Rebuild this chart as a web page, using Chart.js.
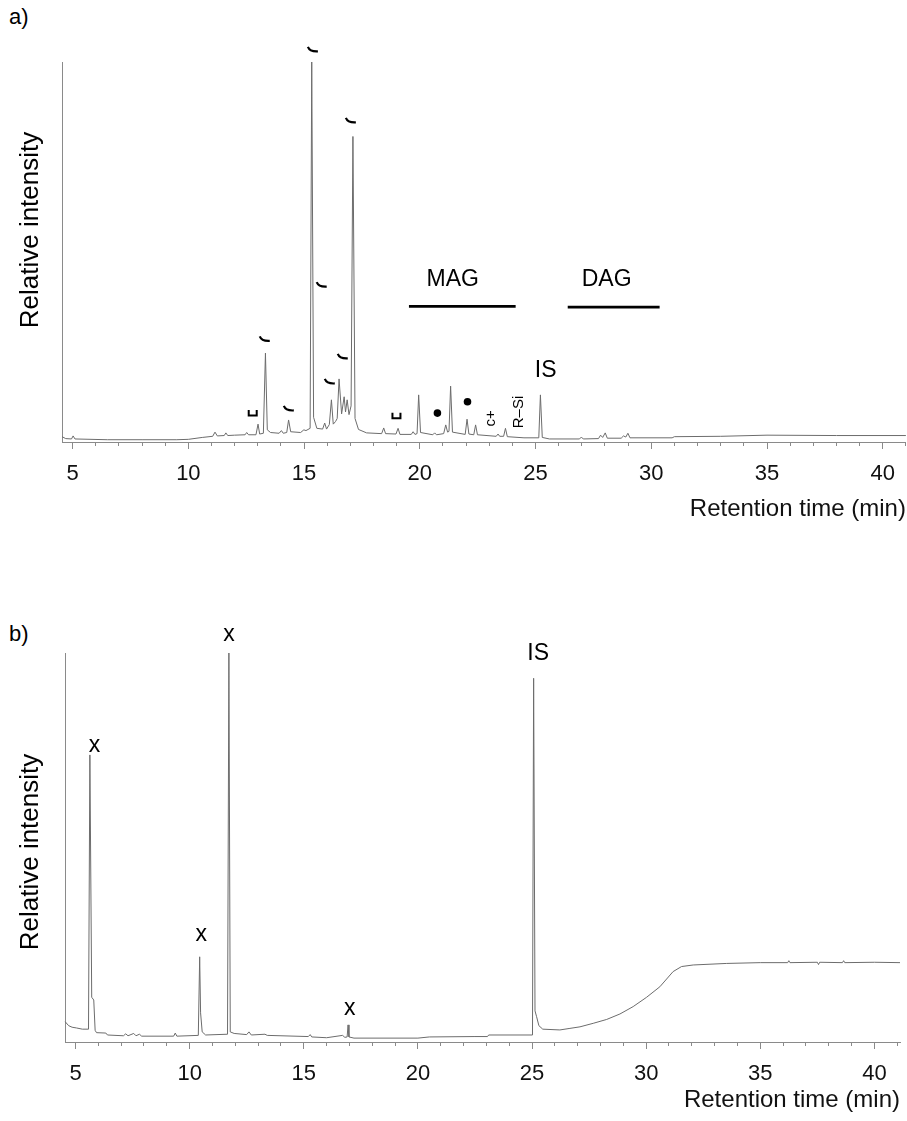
<!DOCTYPE html>
<html lang="en">
<head>
<meta charset="utf-8">
<script src="https://cdn.jsdelivr.net/npm/chart.js@4.4.1/dist/chart.umd.min.js"></script>
<style>
  body { margin: 0; background: #fff; width: 907px; height: 1121px; position: relative; overflow: hidden; }
  canvas { position: absolute; left: 0; }
  #chartA { top: 0; }
  #chartB { top: 540px; }
  .panel { position: absolute; left: 9px; font: 22px "Liberation Sans", Arial, sans-serif; color: #000; }
</style>
</head>
<body>
<div class="panel" style="top:4px">a)</div>
<div class="panel" style="top:621px">b)</div>
<canvas id="chartA" width="907" height="530"></canvas>
<canvas id="chartB" width="907" height="581"></canvas>
<script>
// a) total lipid extract, retention time (min) vs relative intensity
const timeA = [
  4.54, 4.70, 4.95, 5.02, 5.10, 6.50, 8.00, 9.50, 10.00, 10.60,
  11.05, 11.15, 11.25, 11.55, 11.62, 11.70, 12.00, 12.45, 12.52, 12.60,
  12.92, 13.01, 13.08, 13.24, 13.33, 13.41, 13.55, 13.92, 14.02, 14.10,
  14.25, 14.33, 14.42, 14.85, 14.99, 15.08, 15.26, 15.33, 15.41, 15.55,
  15.80, 15.89, 15.97, 16.09, 16.18, 16.26, 16.36, 16.43, 16.51, 16.62,
  16.73, 16.79, 16.86, 16.94, 17.03, 17.11, 17.20, 17.35, 17.70, 18.35,
  18.44, 18.52, 18.97, 19.06, 19.14, 19.63, 19.71, 19.79, 19.88, 19.95,
  20.03, 20.56, 20.64, 20.72, 21.03, 21.12, 21.20, 21.26, 21.33, 21.41,
  21.96, 22.04, 22.12, 22.33, 22.41, 22.49, 23.30, 23.38, 23.45, 23.62,
  23.70, 23.78, 24.50, 25.14, 25.21, 25.29, 25.60, 26.90, 26.98, 27.06,
  27.72, 27.81, 27.90, 28.01, 28.10, 28.70, 28.80, 28.90, 28.99, 29.08,
  30.90, 31.00, 33.00, 35.00, 38.00, 41.00
];
const signalA = [
  1.4, 0.9, 0.8, 1.6, 0.8, 0.6, 0.6, 0.6, 0.7, 1.2,
  1.5, 2.6, 1.6, 1.7, 2.4, 1.7, 1.8, 1.9, 2.5, 1.9,
  1.9, 4.7, 2.1, 2.3, 23.4, 3.2, 2.5, 2.3, 3.0, 2.3,
  2.5, 5.8, 2.7, 2.5, 3.2, 3.0, 3.6, 100, 6.5, 3.6,
  3.4, 5.0, 3.4, 4.6, 11.1, 4.7, 5.4, 6.2, 16.6, 7.4,
  11.9, 7.9, 11.1, 7.2, 9.5, 80.4, 6.2, 3.3, 2.4, 2.2,
  3.7, 2.2, 2.1, 3.6, 2.0, 2.0, 2.7, 2.0, 2.2, 12.4,
  2.5, 1.9, 2.4, 1.9, 2.2, 4.5, 2.6, 2.8, 14.7, 2.6,
  2.0, 6.0, 2.1, 1.9, 4.5, 1.9, 1.5, 2.1, 1.5, 1.5,
  3.6, 1.4, 1.1, 1.1, 12.4, 1.2, 0.8, 0.8, 1.3, 0.8,
  0.9, 1.8, 1.2, 2.4, 1.0, 1.0, 1.6, 1.3, 2.3, 1.1,
  1.1, 1.4, 1.5, 1.8, 1.7, 1.7
];

// b) blank run
const timeB = [
  4.55, 4.70, 4.85, 5.05, 5.30, 5.57, 5.63, 5.71, 5.80, 5.86,
  5.92, 6.33, 6.40, 7.10, 7.20, 7.30, 7.55, 7.65, 7.80, 7.90,
  9.30, 9.37, 9.44, 10.38, 10.44, 10.48, 10.55, 10.70, 11.66, 11.72,
  11.78, 11.95, 12.50, 12.60, 12.70, 13.30, 13.40, 15.20, 15.28, 15.35,
  16.00, 16.70, 16.80, 16.90, 16.94, 16.98, 17.20, 20.00, 20.50, 22.50,
  23.05, 23.10, 25.02, 25.07, 25.13, 25.20, 25.30, 25.47, 26.22, 26.66,
  27.10, 27.68, 28.27, 28.85, 29.43, 30.02, 30.60, 31.18, 31.55, 32.06,
  33.53, 35.00, 36.20, 36.25, 36.30, 37.50, 37.55, 37.60, 38.60, 38.65,
  38.70, 40.00, 41.12
];
const signalB = [
  5.2, 4.2, 3.8, 3.6, 3.3, 3.3, 73.8, 11.5, 10.8, 3.0,
  2.4, 2.3, 1.8, 1.6, 2.1, 1.6, 2.2, 1.6, 2.0, 1.5,
  1.5, 2.3, 1.5, 1.7, 21.9, 7.5, 2.6, 1.8, 2.0, 100,
  2.6, 2.2, 1.9, 2.6, 1.8, 2.0, 1.7, 1.4, 1.9, 1.3,
  1.1, 1.7, 1.2, 1.3, 4.4, 1.3, 1.0, 1.0, 1.3, 1.4,
  1.4, 1.8, 1.8, 93.5, 8.0, 6.5, 4.2, 3.3, 3.1, 3.5,
  3.9, 4.8, 5.8, 7.2, 9.1, 11.5, 14.2, 18.1, 19.4, 19.8,
  20.2, 20.4, 20.4, 20.9, 20.4, 20.5, 19.9, 20.5, 20.4, 20.9,
  20.4, 20.5, 20.4
];

const majorTicks = [5, 10, 15, 20, 25, 30, 35, 40];

// peak labels: [text, time, level]
const labelsA = [['MAG', 21.42, 42.6], ['DAG', 28.07, 42.6], ['IS', 25.44, 18.9]];
const rangesA = [[19.53, 24.14, 35.7], [26.39, 30.36, 35.5]];   // MAG / DAG elution windows
const hooksA = [[13.30, 27.0], [14.34, 8.7], [15.38, 103.2], [15.76, 41.3], [16.11, 15.8], [16.67, 22.4], [17.02, 84.5]];
const bracketsA = [[12.78, 7.6], [18.99, 6.9]];
const dotsA = [[20.76, 7.6], [22.06, 10.6]];
const sideLabelsA = [['c+', 23.09, 6.2], ['R\u2013Si', 24.29, 7.9]];

const labelsB = [['x', 5.83, 76.3], ['x', 10.51, 27.5], ['x', 11.72, 104.7], ['x', 17.01, 8.7], ['IS', 25.27, 99.9]];

const FONT = "'Liberation Sans', Arial, sans-serif";
const NARROW = "'Liberation Sans Narrow', 'Liberation Sans', Arial, sans-serif";
const AXIS = '#8a8a8a';

// draws the peak annotations and the rotated y title
const markLayer = {
  id: 'markLayer',
  afterDatasetsDraw(chart, args, o) {
    const ctx = chart.ctx;
    const px = t => chart.scales.x.getPixelForValue(t);
    const py = v => chart.scales.y.getPixelForValue(v);
    ctx.save();
    ctx.fillStyle = '#000';
    ctx.strokeStyle = '#000';
    ctx.textAlign = 'center';
    ctx.textBaseline = 'middle';

    ctx.font = '26px ' + FONT;
    ctx.save();
    ctx.translate(31, o.titleY);
    ctx.rotate(-Math.PI / 2);
    ctx.fillText('Relative intensity', 0, 0);
    ctx.restore();

    ctx.font = '23px ' + FONT;
    (o.labels || []).forEach(([s, t, v]) => ctx.fillText(s, px(t), py(v)));

    ctx.lineWidth = 2.6;
    (o.ranges || []).forEach(([a, b, v]) => {
      ctx.beginPath();
      ctx.moveTo(px(a), py(v));
      ctx.lineTo(px(b), py(v));
      ctx.stroke();
    });

    ctx.lineWidth = 2.2;
    (o.hooks || []).forEach(([t, v]) => {
      const x = px(t), y = py(v);
      ctx.beginPath();
      ctx.moveTo(x - 5, y - 3);
      ctx.quadraticCurveTo(x - 3, y + 2, x + 5, y + 1.5);
      ctx.stroke();
    });

    ctx.lineWidth = 2;
    (o.brackets || []).forEach(([t, v]) => {
      const x = px(t), y = py(v);
      ctx.beginPath();
      ctx.moveTo(x - 4, y - 3);
      ctx.lineTo(x - 4, y + 2.5);
      ctx.lineTo(x + 4, y + 2.5);
      ctx.lineTo(x + 4, y - 3);
      ctx.stroke();
    });

    (o.dots || []).forEach(([t, v]) => {
      ctx.beginPath();
      ctx.arc(px(t), py(v), 3.8, 0, Math.PI * 2);
      ctx.fill();
    });

    ctx.font = '15px ' + FONT;
    (o.sideLabels || []).forEach(([s, t, v]) => {
      ctx.save();
      ctx.translate(px(t), py(v));
      ctx.rotate(-Math.PI / 2);
      ctx.fillText(s, 0, 0);
      ctx.restore();
    });
    ctx.restore();
  }
};

function makeChart(id, times, signal, range, fit, marks) {
  const points = times.map((t, i) => ({x: t, y: signal[i]}));
  return new Chart(document.getElementById(id), {
    type: 'line',
    data: {
      datasets: [{
        data: points,
        borderColor: '#6c6c6c',
        borderWidth: 1,
        pointRadius: 0,
        tension: 0,
        clip: false
      }]
    },
    options: {
      responsive: false,
      animation: false,
      devicePixelRatio: 1,
      layout: {padding: fit.padding},
      plugins: {legend: {display: false}, tooltip: {enabled: false}, markLayer: marks},
      scales: {
        xMinor: {
          type: 'linear', position: 'bottom', weight: -1,
          min: range[0], max: range[1],
          border: {display: false},
          grid: {drawOnChartArea: false, drawTicks: true, tickLength: 4, color: AXIS},
          ticks: {stepSize: 1, includeBounds: false, display: false},
          afterFit: s => { s.height = 0; }
        },
        x: {
          type: 'linear', position: 'bottom', weight: 0,
          min: range[0], max: range[1],
          border: {display: true, color: AXIS, width: 1},
          grid: {drawOnChartArea: false, drawTicks: true, tickLength: 7, color: AXIS},
          ticks: {
            stepSize: 5, includeBounds: false, maxRotation: 0, autoSkip: false,
            padding: 12, color: '#111',
            font: {family: NARROW, size: 22, lineHeight: 1.2},
            callback: v => majorTicks.includes(v) ? String(v) : ''
          },
          title: {
            display: true, text: 'Retention time (min)', align: 'end', color: '#111',
            font: {family: FONT, size: 24, lineHeight: 1.2}, padding: {top: 0, bottom: 6}
          },
          afterFit: s => { s.height = fit.xHeight; }
        },
        y: {
          type: 'linear', min: 0, max: 100,
          border: {display: true, color: AXIS, width: 1},
          grid: {display: false, drawTicks: false},
          ticks: {display: false},
          afterFit: s => { s.width = 0; }
        }
      }
    },
    plugins: [markLayer]
  });
}

makeChart('chartA', timeA, signalA, [4.54, 41.0],
  {padding: {top: 62, left: 62, right: 0, bottom: 0}, xHeight: 88},
  {titleY: 230, labels: labelsA, ranges: rangesA, hooks: hooksA, brackets: bracketsA, dots: dotsA, sideLabels: sideLabelsA});

makeChart('chartB', timeB, signalB, [4.54, 41.12],
  {padding: {top: 113, left: 65, right: 7, bottom: 0}, xHeight: 79},
  {titleY: 312, labels: labelsB});
</script>
</body>
</html>
